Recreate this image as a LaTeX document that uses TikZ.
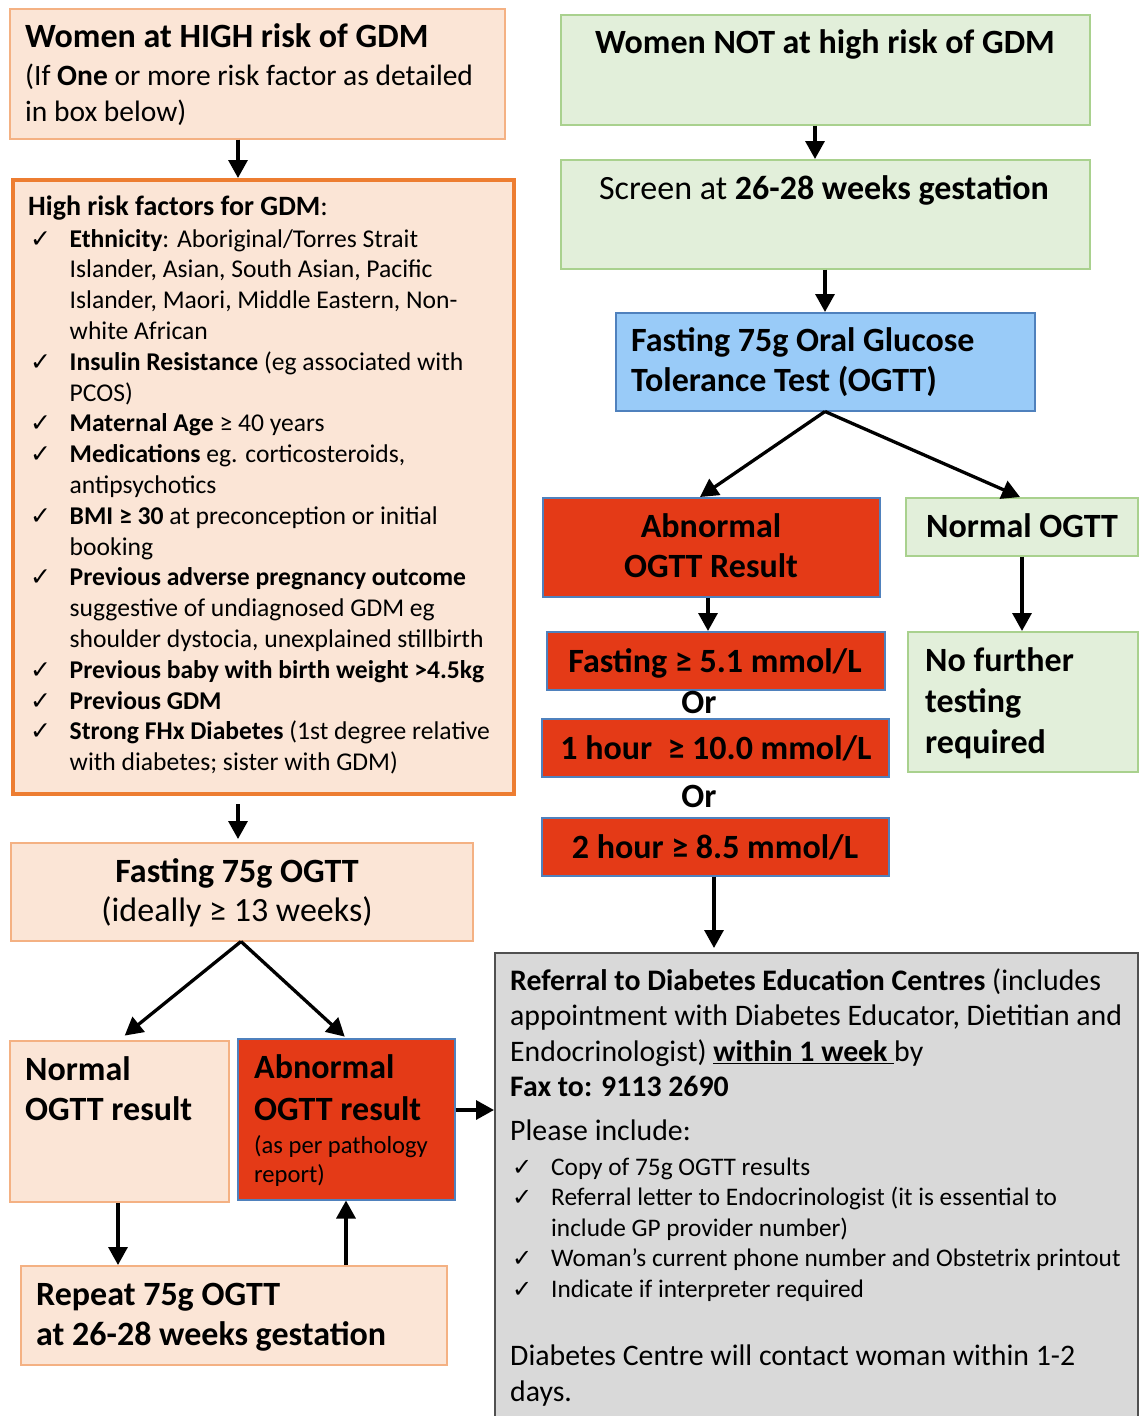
\documentclass[tikz,border=0pt]{standalone}
\usepackage{fontspec}
\setmainfont{Carlito}
\newfontfamily\dv{DejaVu Sans}
\usetikzlibrary{arrows.meta}
\definecolor{peach}{HTML}{FBE5D6}
\definecolor{peachb}{HTML}{F4B183}
\definecolor{orng}{HTML}{ED7D31}
\definecolor{grn}{HTML}{E2EFDA}
\definecolor{grnb}{HTML}{A9D18E}
\definecolor{blu}{HTML}{99CBF8}
\definecolor{blub}{HTML}{4F81BD}
\definecolor{redf}{HTML}{E43A17}
\definecolor{gryf}{HTML}{D9D9D9}
\definecolor{gryb}{HTML}{505050}
\newcommand\fs[2]{\fontsize{#1}{#2}\selectfont}
\newcommand\ckr{\makebox[39.5pt][l]{\dv\fontsize{25}{25}\selectfont ✓}}
\newcommand\ckn{\makebox[39pt][l]{\dv\fontsize{24}{24}\selectfont ✓}}
\newcommand\ind[1]{\hspace*{#1pt}}
\newcommand\lin[1]{\hbox{#1}}
\begin{document}
\begin{tikzpicture}[x=1pt,y=-1pt,
  bx/.style={rectangle, inner sep=0pt, anchor=north west, line width=1.5pt},
  pch/.style={bx, fill=peach, draw=peachb},
  grnbox/.style={bx, fill=grn, draw=grnb},
  redbox/.style={bx, fill=redf, draw=blub},
  tx/.style={inner sep=0pt, anchor=base west},
  txc/.style={inner sep=0pt, anchor=base},
  big/.style={font=\fs{34}{41.5}\bfseries},
  arr/.style={line width=3.3pt, -{Triangle[length=18pt,width=19pt]}}]
\useasboundingbox (0,0) rectangle (1139,1416);
\fill[white] (0,0) rectangle (1139,1416);

% ---------- left column ----------
\node[pch, minimum width=495pt, minimum height=130pt] (hr) at (9,8) {};
\node[tx, big] (hrt) at (25,47) {Women at HIGH risk of GDM};
\node[tx, font=\fs{29.5}{36.5}] (hrs) at (25,85) {\vtop{\lin{(If \textbf{One} or more risk factor as detailed}\lin{in box below)}}};

\node[bx, fill=peach, draw=orng, line width=4pt, minimum width=501pt, minimum height=614pt] (rf) at (11,178) {};
\node[tx, font=\fs{28}{34}\bfseries] (rfh) at (28,215) {High risk factors for GDM\textmd{:}};
\node[tx, font=\fs{25.6}{30.8}] (rfl) at (30,247) {\vtop{%
\lin{\ckr\textbf{Ethnicity}: Aboriginal/Torres Strait}
\lin{\ind{39.5}Islander, Asian, South Asian, Pacific}
\lin{\ind{39.5}Islander, Maori, Middle Eastern, Non-}
\lin{\ind{39.5}white African}
\lin{\ckr\textbf{Insulin Resistance} (eg associated with}
\lin{\ind{39.5}PCOS)}
\lin{\ckr\textbf{Maternal Age} ≥ 40 years}
\lin{\ckr\textbf{Medications} eg. corticosteroids,}
\lin{\ind{39.5}antipsychotics}
\lin{\ckr\textbf{BMI ≥ 30} at preconception or initial}
\lin{\ind{39.5}booking}
\lin{\ckr\textbf{Previous adverse pregnancy outcome}}
\lin{\ind{39.5}suggestive of undiagnosed GDM eg}
\lin{\ind{39.5}shoulder dystocia, unexplained stillbirth}
\lin{\ckr\textbf{Previous baby with birth weight >4.5kg}}
\lin{\ckr\textbf{Previous GDM}}
\lin{\ckr\textbf{Strong FHx Diabetes} (1st degree relative}
\lin{\ind{39.5}with diabetes; sister with GDM)}}};

\node[pch, minimum width=462pt, minimum height=98pt] (fl) at (10,842) {};
\node[txc, big] (flt) at (237,882) {Fasting 75g OGTT};
\node[txc, font=\fs{34}{41.5}] (fls) at (237,921) {(ideally ≥ 13 weeks)};

\node[pch, minimum width=219pt, minimum height=161pt] (nl) at (9,1040) {};
\node[tx, font=\fs{34}{40}\bfseries] (nlt) at (25,1080) {\vtop{\lin{Normal}\lin{OGTT result}}};

\node[redbox, minimum width=217pt, minimum height=161pt] (al) at (237,1038) {};
\node[tx, font=\fs{34}{42}\bfseries] (alt) at (254,1078) {\vtop{\lin{Abnormal}\lin{OGTT result}}};
\node[tx, font=\fs{24.6}{29.5}] (als) at (254,1153) {\vtop{\lin{(as per pathology}\lin{report)}}};

\node[pch, minimum width=426pt, minimum height=99pt] (rep) at (20,1265) {};
\node[tx, font=\fs{34}{40.5}\bfseries] (rept) at (36,1305) {\vtop{\lin{Repeat 75g OGTT}\lin{at 26-28 weeks gestation}}};

% ---------- referral ----------
\node[bx, fill=gryf, draw=gryb, line width=2pt, minimum width=643pt, minimum height=490pt] (ref) at (494,952) {};
\node[tx, font=\fs{29.8}{35.6}] (reft) at (510,990) {\vtop{%
\lin{\textbf{Referral to Diabetes Education Centres} (includes}
\lin{appointment with Diabetes Educator, Dietitian and}
\lin{Endocrinologist) \textbf{\underline{within 1 week\ }}by}
\lin{\textbf{Fax to: 9113 2690}}}};
\node[tx, font=\fs{29.8}{35.6}] (refp) at (510,1140) {Please include:};
\node[tx, font=\fs{25.3}{30.6}] (refl) at (512,1175) {\vtop{%
\lin{\ckn Copy of 75g OGTT results}
\lin{\ckn Referral letter to Endocrinologist (it is essential to}
\lin{\ind{39}include GP provider number)}
\lin{\ckn Woman’s current phone number and Obstetrix printout}
\lin{\ckn Indicate if interpreter required}}};
\node[tx, font=\fs{29.8}{36.5}] (refc) at (510,1365) {\vtop{\lin{Diabetes Centre will contact woman within 1-2}\lin{days.}}};

% ---------- right column ----------
\node[grnbox, minimum width=529pt, minimum height=110pt] (nh) at (560,14) {};
\node[txc, big] (nht) at (825,53) {Women NOT at high risk of GDM};

\node[grnbox, minimum width=529pt, minimum height=109pt] (scr) at (560,159) {};
\node[txc, font=\fs{34}{41.5}] (scrt) at (824,199) {Screen at \textbf{26-28 weeks gestation}};

\node[bx, fill=blu, draw=blub, minimum width=419pt, minimum height=98pt] (ogtt) at (615,312) {};
\node[tx, font=\fs{34}{40}\bfseries] (ogttt) at (631,351) {\vtop{\lin{Fasting 75g Oral Glucose}\lin{Tolerance Test (OGTT)}}};

\node[redbox, minimum width=337pt, minimum height=99pt] (abn) at (542,497) {};
\node[txc, big] (abnt1) at (711,537) {Abnormal};
\node[txc, big] (abnt2) at (711,577) {OGTT Result};

\node[grnbox, minimum width=232pt, minimum height=58pt] (nog) at (905,497) {};
\node[txc, big] (nogt) at (1022,537) {Normal OGTT};

\node[redbox, minimum width=338pt, minimum height=58pt] (f1) at (546,631) {};
\node[txc, big] (f1t) at (715,672) {Fasting ≥ 5.1 mmol/L};
\node[txc, big] (or1) at (699,713) {Or};
\node[redbox, minimum width=347pt, minimum height=58pt] (f2) at (541,718) {};
\node[txc, big] (f2t) at (716,759) {1 hour \ ≥ 10.0 mmol/L};
\node[txc, big] (or2) at (699,807) {Or};
\node[redbox, minimum width=347pt, minimum height=58pt] (f3) at (541,817) {};
\node[txc, big] (f3t) at (715,858) {2 hour ≥ 8.5 mmol/L};

\node[grnbox, minimum width=230pt, minimum height=140pt] (nft) at (907,631) {};
\node[tx, font=\fs{34}{41}\bfseries] (nftt) at (925,671) {\vtop{\lin{No further}\lin{testing}\lin{required}}};

% ---------- arrows ----------
\draw[arr] (238,0 |- hr.south) -- (238,0 |- rf.north);
\draw[arr, shorten <=8pt, shorten >=3pt] (238,0 |- rf.south) -- (238,0 |- fl.north);
\draw[arr, shorten >=7pt] (241,0 |- fl.south) -- (nl.north);
\draw[arr, shorten >=2pt] (241,0 |- fl.south) -- (al.north);
\draw[arr] (118,0 |- nl.south) -- (118,0 |- rep.north);
\draw[arr] (346,0 |- rep.north) -- (346,0 |- al.south);
\draw[arr] (al.east |- 0,1110) -- (ref.west |- 0,1110);

\draw[arr] (815,0 |- nh.south) -- (815,0 |- scr.north);
\draw[arr] (825,0 |- scr.south) -- (825,0 |- ogtt.north);
\draw[arr] (825,0 |- ogtt.south) -- (700,0 |- abn.north);
\draw[arr] (825,0 |- ogtt.south) -- (1020,0 |- nog.north);
\draw[arr] (708,0 |- abn.south) -- (708,0 |- f1.north);
\draw[arr] (714,0 |- f3.south) -- (714,948);
\draw[arr] (1022,0 |- nog.south) -- (1022,0 |- nft.north);
\end{tikzpicture}
\end{document}
